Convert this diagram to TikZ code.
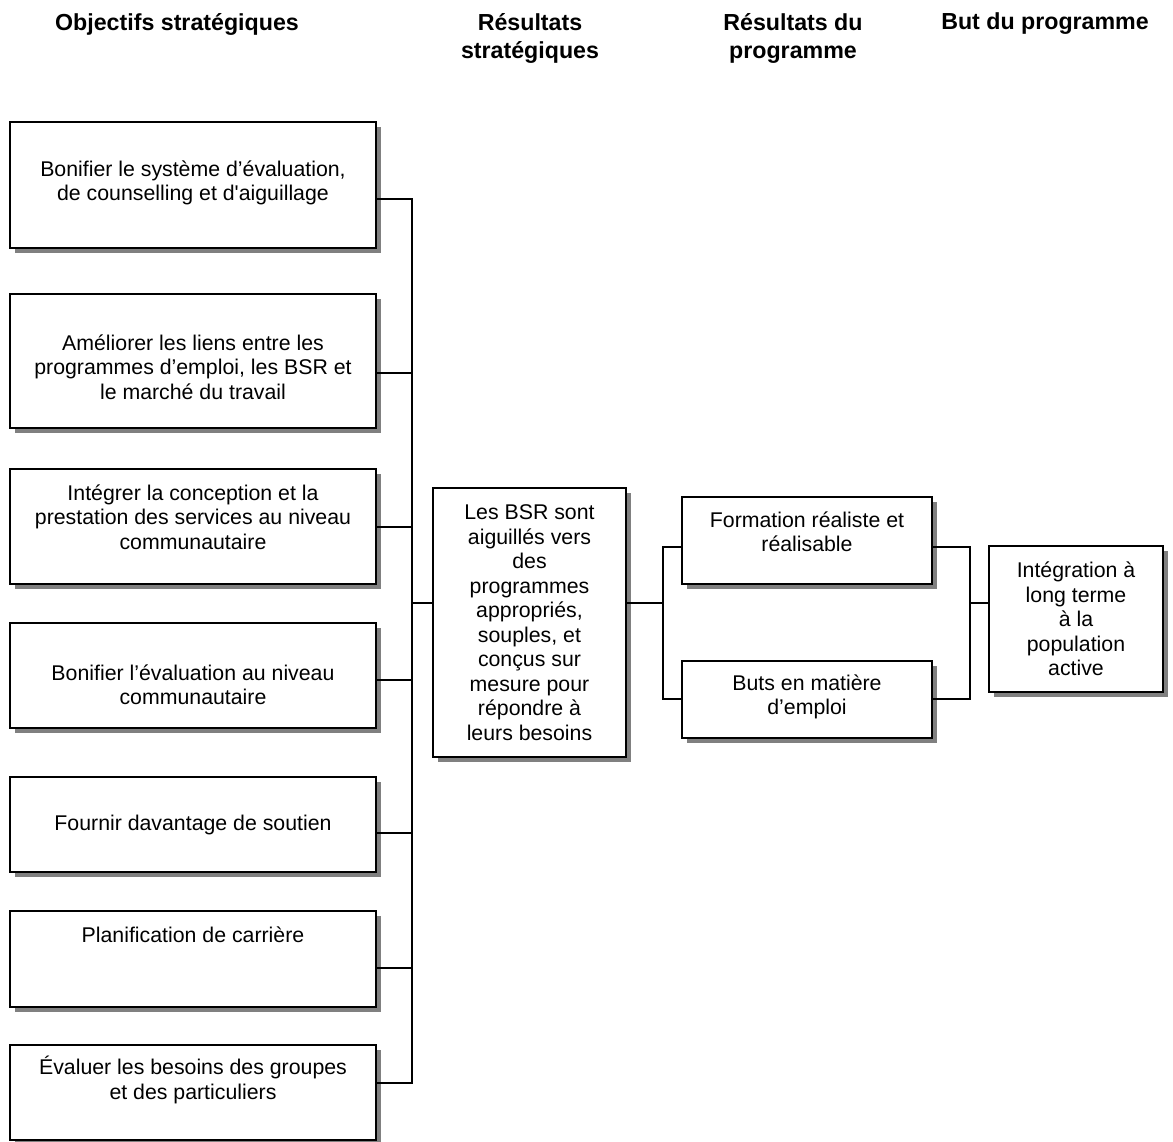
\documentclass[tikz,border=0pt]{standalone}
\usepackage{fontspec}
\setmainfont{Liberation Sans}[Ligatures=TeXOff]
\usetikzlibrary{shadows}
\definecolor{shadowgray}{HTML}{808080}
\begin{document}
\begin{tikzpicture}[x=1pt,y=-1pt,
  box/.style={draw=black,line width=1.6pt,fill=white,inner sep=0pt,outer sep=0pt,
    drop shadow={shadow xshift=5pt,shadow yshift=-5pt,fill=shadowgray,opacity=1}},
  txt/.style={align=center,inner sep=0pt,font=\fontsize{21.3}{24.5}\selectfont},
  head/.style={align=center,inner sep=0pt,font=\bfseries\fontsize{23.2}{28}\selectfont},
  link/.style={line width=1.5pt,line cap=rect}]
\useasboundingbox (0,0) rectangle (1173,1142);

% column headings
\node[head] (h1) at (177,24) {Objectifs stratégiques};
\node[head] (h2) at (530,38) {Résultats\\stratégiques};
\node[head] (h3) at (793,38) {Résultats du\\programme};
\node[head] (h4) at (1045,24) {But du programme};

% strategic objectives
\node[box,minimum width=366,minimum height=126] (o1) at (193,185) {};
\node[box,minimum width=366,minimum height=134] (o2) at (193,361) {};
\node[box,minimum width=366,minimum height=115] (o3) at (193,526.5) {};
\node[box,minimum width=366,minimum height=105] (o4) at (193,675.5) {};
\node[box,minimum width=366,minimum height=95] (o5) at (193,824.5) {};
\node[box,minimum width=366,minimum height=96] (o6) at (193,959) {};
\node[box,minimum width=366,minimum height=95] (o7) at (193,1092.5) {};

\node[txt] (t1) at (193,183) {Bonifier le système d’évaluation,\\de counselling et d'aiguillage};
\node[txt] (t2) at (193,367) {Améliorer les liens entre les\\programmes d’emploi, les BSR et\\le marché du travail};
\node[txt] (t3) at (193,517) {Intégrer la conception et la\\prestation des services au niveau\\communautaire};
\node[txt] (t4) at (193,685) {Bonifier l’évaluation au niveau\\communautaire};
\node[txt] (t5) at (193,825) {Fournir davantage de soutien};
\node[txt] (t6) at (193,935) {Planification de carrière};
\node[txt] (t7) at (193,1080) {Évaluer les besoins des groupes\\et des particuliers};

% strategic result
\node[box,minimum width=193,minimum height=269] (m) at (529.5,622.5) {};
\node[txt] (mt) at (529.5,622.5) {Les BSR sont\\aiguillés vers\\des\\programmes\\appropriés,\\souples, et\\conçus sur\\mesure pour\\répondre à\\leurs besoins};

% programme results
\node[box,minimum width=250,minimum height=87] (f) at (807,540.5) {};
\node[txt] (ft) at (807,532) {Formation réaliste et\\réalisable};
\node[box,minimum width=250,minimum height=77] (b) at (807,699.5) {};
\node[txt] (bt) at (807,697) {Buts en matière\\d’emploi};

% programme goal
\node[box,minimum width=174,minimum height=146] (g) at (1076,619) {};
\node[txt] (gt) at (1076,619) {Intégration à\\long terme\\à la\\population\\active};

% bus joining the objectives
\coordinate (bustop) at (412,199);
\coordinate (busbot) at (412,1083);
\draw[link] (bustop) -- (busbot);
\draw[link] ([yshift=-14pt]o1.east) -- ++(36,0);
\draw[link] ([yshift=-12pt]o2.east) -- ++(36,0);
\draw[link] ([yshift=-0.5pt]o3.east) -- ++(36,0);
\draw[link] ([yshift=-4.5pt]o4.east) -- ++(36,0);
\draw[link] ([yshift=-8.5pt]o5.east) -- ++(36,0);
\draw[link] ([yshift=-9pt]o6.east) -- ++(36,0);
\draw[link] ([yshift=9.5pt]o7.east) -- ++(36,0);

% bus to the strategic result
\draw[link] ([yshift=19.5pt]m.west) -- ++(-21,0);

% fork to the programme results
\coordinate (lf) at (663,547);
\coordinate (lb) at (663,699);
\draw[link] ([yshift=19.5pt]m.east) -- ++(37,0);
\draw[link] (lf) -- (lb);
\draw[link] (lf) -- (f.west |- lf);
\draw[link] (lb) -- (b.west |- lb);

% join to the programme goal
\coordinate (rf) at (970,547);
\coordinate (rb) at (970,699);
\draw[link] (f.east |- rf) -- (rf) -- (rb) -- (b.east |- rb);
\draw[link] ([yshift=16pt]g.west) -- ++(-19,0);
\end{tikzpicture}
\end{document}
